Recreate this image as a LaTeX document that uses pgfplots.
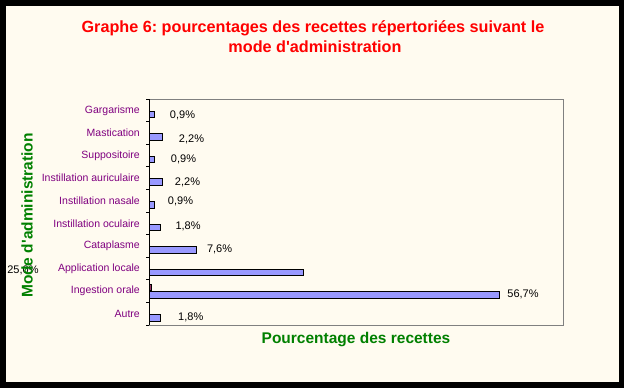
\documentclass[border=0pt]{standalone}
\usepackage{pgfplots}
\pgfplotsset{compat=1.18}
\usepackage{pgfplotstable}
\usepackage{fontspec}
\setmainfont{Liberation Sans}
\frenchspacing
\definecolor{cream}{HTML}{FFFBF0}
\definecolor{barblue}{HTML}{9999FF}
\definecolor{barred}{HTML}{993366}
\definecolor{catpurple}{HTML}{800080}
\definecolor{labgreen}{HTML}{008000}
\definecolor{titlered}{HTML}{FF0000}

\pgfplotstableread{
y x dx dy
0.5 1.8 17.7 0
1.5 56.7 7.7 0.7
2.5 25.0 -296.5 2.5
3.5 7.6 10.7 0.7
4.5 1.8 15 1
5.5 0.9 13 3.7
6.5 2.2 12 -0.6
7.5 0.9 16 0
8.5 2.2 16 -2.3
9.5 0.9 15 -1.2
}\bluedata

\begin{document}
\begin{tikzpicture}
\fill[black] (0,0) rectangle (624pt,388pt);
\fill[cream] (6pt,6pt) rectangle (619pt,382pt);
\node[anchor=base, inner sep=0pt, font=\fontsize{16.2}{19}\selectfont\bfseries, text=titlered] at (313pt,355pt) {Graphe 6: pourcentages des recettes répertoriées suivant le};
\node[anchor=base, inner sep=0pt, font=\fontsize{16.2}{19}\selectfont\bfseries, text=titlered] at (315pt,335pt) {mode d\textquotesingle administration};
\begin{axis}[
  at={(149pt,63pt)}, anchor=south west,
  scale only axis, width=414pt, height=226pt,
  xmin=0, xmax=67, ymin=0, ymax=10,
  xbar,
  axis line style={draw=none},
  xtick=\empty,
  ytick={0,...,10},
  y tick label as interval,
  yticklabels={Autre, Ingestion orale, Application locale, Cataplasme, Instillation oculaire, Instillation nasale, Instillation auriculaire, Suppositoire, Mastication, Gargarisme},
  ytick pos=left, ytick align=outside, major tick length=3pt,
  tick style={black, line width=0.8pt},
  yticklabel style={font=\fontsize{10.5}{12}\selectfont, text=catpurple, inner sep=0pt, xshift=-6pt},
  /pgf/number format/assume math mode=true,
  xlabel={Pourcentage des recettes},
  ylabel={Mode d\textquotesingle administration},
  every axis x label/.style={at={(axis description cs:0.5,0)}, yshift=-19pt, anchor=base, inner sep=0pt, font=\fontsize{15.5}{18}\selectfont\bfseries, text=labgreen},
  every axis y label/.style={at={(axis description cs:0,0.5)}, xshift=-116.3pt, yshift=-3.5pt, rotate=90, anchor=base, inner sep=0pt, font=\fontsize{15.5}{18}\selectfont\bfseries, text=labgreen},
  clip=false,
]
\addplot[fill=barblue, draw=black, line width=0.8pt, bar width=6.5pt, bar shift=-4pt,
  point meta=x,
  nodes near coords={\pgfmathprintnumber[fixed, fixed zerofill, precision=1, use comma]{\pgfplotspointmeta}\%},
  visualization depends on={\thisrow{dx} \as \dx},
  visualization depends on={\thisrow{dy} \as \dy},
  nodes near coords style={anchor=west, inner sep=0pt, xshift=\dx pt, yshift=\dy pt, font=\fontsize{11}{13}\selectfont, text=black}
] table[x=x, y=y] {\bluedata};
\addplot[fill=barred, draw=black, line width=0.8pt, bar width=6pt, bar shift=3.5pt] coordinates {(0.4,1.5)};
\draw[gray, line width=0.8pt] (rel axis cs:0,1) -- (rel axis cs:1,1) -- (rel axis cs:1,0) -- (rel axis cs:0,0);
\draw[black, line width=0.8pt] (rel axis cs:0,0) -- (rel axis cs:0,1);
\end{axis}
\end{tikzpicture}
\end{document}
